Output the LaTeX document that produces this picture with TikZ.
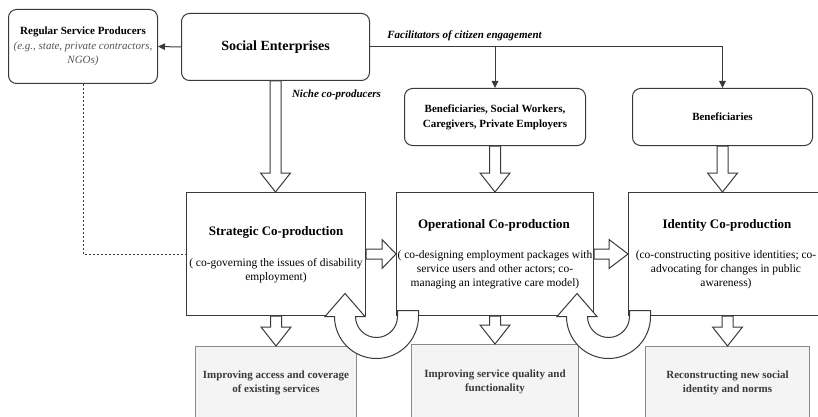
\documentclass[tikz,border=0pt]{standalone}
\usepackage{fontspec}
\setmainfont{Liberation Serif}
\usetikzlibrary{arrows.meta,calc}
\definecolor{ln}{HTML}{3A3A3A}
\definecolor{gfill}{HTML}{F4F4F4}
\definecolor{gline}{HTML}{8A8A8A}
\definecolor{itc}{HTML}{555555}
\newcommand\hdn[3]{\draw[hollow] let \p1=(#1), \p2=(#2) in
  (\x1-5.5pt,\y1) -- (\x1-5.5pt,\y2+#3pt) -- (\x1-15pt,\y2+#3pt) -- (\x1,\y2) --
  (\x1+15pt,\y2+#3pt) -- (\x1+5.5pt,\y2+#3pt) -- (\x1+5.5pt,\y1) -- cycle;}
\newcommand\hrt[3]{\draw[hollow] let \p1=(#1), \p2=(#2) in
  (\x1,\y1+5pt) -- (\x2-#3pt,\y1+5pt) -- (\x2-#3pt,\y1+14.5pt) -- (\x2,\y1) --
  (\x2-#3pt,\y1-14.5pt) -- (\x2-#3pt,\y1-5pt) -- (\x1,\y1-5pt) -- cycle;}
\begin{document}
\begin{tikzpicture}[x=1pt,y=-1pt,line width=1pt,
  rbox/.style={draw=ln,rounded corners=8pt,fill=white,inner sep=0pt,align=center,text=black},
  mbox/.style={draw=ln,fill=white,inner sep=0pt},
  gbox/.style={draw=gline,fill=gfill,inner sep=0pt,align=center,text=ln,
    font=\fontsize{11}{14}\selectfont\bfseries},
  hollow/.style={draw=ln,fill=white,line join=miter},
  title/.style={font=\fontsize{13}{16}\selectfont\bfseries,inner sep=0pt},
  body/.style={font=\fontsize{11.5}{13.8}\selectfont,align=center,inner sep=0pt},
  lab/.style={font=\fontsize{11}{13}\selectfont\bfseries\itshape,inner sep=0pt},
  conn/.style={draw=ln,-{Triangle[length=7pt,width=6.5pt]}}]
\useasboundingbox (0,0) rectangle (818,417);
\fill[white] (0,0) rectangle (818,417);
\begin{scope}[shift={(0.5,0.5)}]
% top boxes
\node[rbox,minimum width=149pt,minimum height=74pt] (rsp) at (82.5,46) {};
\node[align=center,inner sep=0pt,font=\fontsize{11}{14.5}\selectfont] (rspT) at (rsp.center)
  {\textbf{Regular Service Producers}\\\textcolor{itc}{\textit{(e.g., state, private contractors,}}\\\textcolor{itc}{\textit{NGOs)}}};
\node[rbox,minimum width=188pt,minimum height=67pt,font=\fontsize{14}{17}\selectfont\bfseries] (se) at (275,46.5) {Social Enterprises};
\node[rbox,minimum width=181pt,minimum height=57pt,font=\fontsize{11}{15}\selectfont\bfseries] (bsw) at (494.5,116.5)
  {Beneficiaries, Social Workers,\\Caregivers, Private Employers};
\node[rbox,minimum width=180pt,minimum height=57pt,font=\fontsize{11}{15}\selectfont\bfseries] (ben) at (722,116.5) {Beneficiaries};
% main boxes
\node[mbox,minimum width=179pt,minimum height=123pt] (strat) at (275.5,253.5) {};
\node[mbox,minimum width=197pt,minimum height=123pt] (op) at (494.5,253.5) {};
\node[mbox,minimum width=191pt,minimum height=123pt] (id) at (723.5,253.5) {};
\node[title] (stratT) at (275.5,232) {Strategic Co-production};
\node[body] (stratB) at (275.5,270.5) {( co-governing the issues of disability\\employment)};
\node[title] (opT) at (493.5,225) {Operational Co-production};
\node[body] (opB) at (494.5,269.5) {( co-designing employment packages with\\service users and other actors; co-\\managing an integrative care model)};
\node[title] (idT) at (726.5,225) {Identity Co-production};
\node[body] (idB) at (725.5,269.5) {(co-constructing positive identities; co-\\advocating for changes in public\\awareness)};
% result boxes
\node[gbox,minimum width=161pt,minimum height=73pt] (res1) at (275.5,382.5) {Improving access and coverage\\of existing services};
\node[gbox,minimum width=167pt,minimum height=75pt] (res2) at (494.5,381.5) {Improving service quality and\\functionality};
\node[gbox,minimum width=164pt,minimum height=73pt] (res3) at (727,382.5) {Reconstructing new social\\identity and norms};
% thin connectors
\draw[conn] (se.west) -- (rsp.east);
\draw[conn] (se.east) -| (ben.north);
\draw[conn] (bsw.north |- se.east) -- (bsw.north);
\draw[ln,dash pattern=on 2pt off 2pt] (rsp.south) |- (strat.west);
% labels
\node[lab] (niche) at (336,94) {Niche co-producers};
\node[lab] (facil) at (464,35) {Facilitators of citizen engagement};
% hollow arrows
\hdn{se.south}{strat.north}{19}
\hdn{bsw.south}{op.north}{19}
\hdn{ben.south}{ben.south |- id.north}{19}
\hdn{strat.south}{res1.north}{19}
\hdn{op.south}{res2.north}{19}
\hdn{id.south -| res3.north}{res3.north}{19}
\hrt{strat.east}{op.west}{14}
\hrt{op.east}{id.west}{19}
% U-turn arrows
\coordinate (u1) at (376,316);
\coordinate (u2) at (608,316);
\begin{scope}[shift={(u1)},x=1pt,y=1pt]
\draw[hollow] (42,6) -- (42,0) arc[start angle=0,end angle=-180,radius=42] -- (-51.5,0) -- (-31.5,23) -- (-11.5,0) -- (-21,0)
  arc[start angle=180,end angle=360,radius=21] -- (21,6) -- cycle;
\end{scope}
\begin{scope}[shift={(u2)},x=1pt,y=1pt]
\draw[hollow] (42,6) -- (42,0) arc[start angle=0,end angle=-180,radius=42] -- (-51.5,0) -- (-31.5,23) -- (-11.5,0) -- (-21,0)
  arc[start angle=180,end angle=360,radius=21] -- (21,6) -- cycle;
\end{scope}
\end{scope}
\end{tikzpicture}
\end{document}
